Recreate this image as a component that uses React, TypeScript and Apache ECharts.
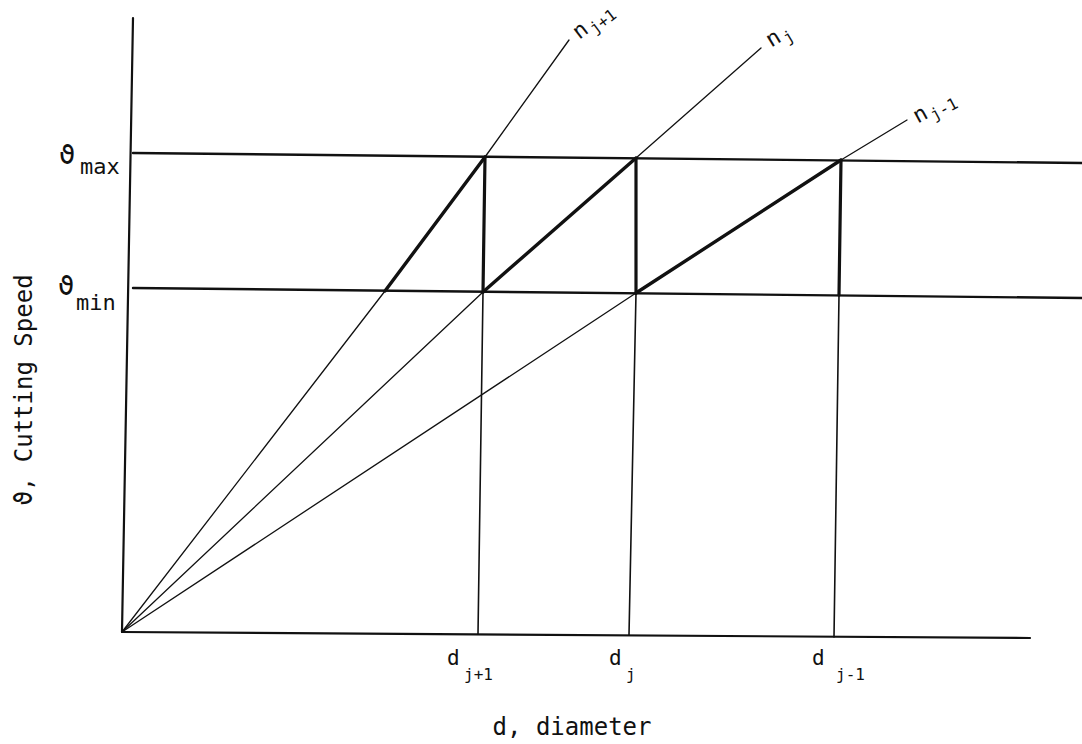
import React, { useEffect, useRef } from "react";
import * as echarts from "echarts";

// All coordinates are data units of a plain value grid (origin at the axes' corner).
const xAxisLine: number[][] = [[0, 0], [908, -6]];
const yAxisLine: number[][] = [[0, 0], [11, 614]];
const vMaxLine: number[][] = [[11, 479], [960, 469]];
const vMinLine: number[][] = [[11, 344], [960, 334]];

// rays n_{j+1}, n_j, n_{j-1}: origin -> crossing vmin -> crossing vmax -> end
const rayNjPlus1: number[][] = [[0, 0], [263, 341], [363, 475], [447, 592]];
const rayNj: number[][] = [[0, 0], [361, 340], [514, 474], [639, 584]];
const rayNjMinus1: number[][] = [[0, 0], [514, 339], [719, 472], [785, 512]];

// diameters d_{j+1}, d_j, d_{j-1}: x-axis -> vmin -> vmax
const diaJPlus1: number[][] = [[356, -2], [361, 340], [363, 475]];
const diaJ: number[][] = [[507, -3], [514, 339], [514, 474]];
const diaJMinus1: number[][] = [[712, -5], [717, 337], [719, 472]];

const xAxisTitle = "d, diameter";
const yAxisTitle = "ϑ, Cutting Speed";
const speedSymbol = "ϑ";
const speedSubs = ["max", "min"];
const diaSubs = ["j+1", "j", "j-1"];
const raySubs = ["j+1", "j", "j-1"];

const INK = "#111";
const MONO = "'DejaVu Sans Mono', monospace";

function seg(data: number[][], width: number, z = 2) {
  return {
    type: "line",
    data,
    symbol: "none",
    silent: true,
    clip: false,
    z,
    lineStyle: { color: INK, width, cap: "round", join: "round" },
  };
}

function txt(text: string, x: number, y: number, size: number, align = "left", extra: any = {}) {
  return {
    type: "text",
    x,
    y,
    silent: true,
    style: {
      text,
      fontFamily: MONO,
      fontSize: size,
      fill: INK,
      textAlign: align,
      textVerticalAlign: "middle",
      ...extra,
    },
  };
}

export default function App() {
  const ref = useRef<HTMLDivElement>(null);
  useEffect(() => {
    if (!ref.current) return;
    const chart = echarts.init(ref.current, null, { renderer: "svg" });
    const series: any[] = [
      seg(xAxisLine, 2.2),
      seg(yAxisLine, 2.2),
      seg(vMaxLine, 2.4),
      seg(vMinLine, 2.4),
      seg(rayNjPlus1, 1.3),
      seg(rayNj, 1.3),
      seg(rayNjMinus1, 1.3),
      seg(rayNjPlus1.slice(1, 3), 3.4, 3),
      seg(rayNj.slice(1, 3), 3.4, 3),
      seg(rayNjMinus1.slice(1, 3), 3.4, 3),
      seg(diaJPlus1.slice(0, 2), 1.6),
      seg(diaJ.slice(0, 2), 1.6),
      seg(diaJMinus1.slice(0, 2), 1.6),
      seg(diaJPlus1.slice(1, 3), 3.2, 3),
      seg(diaJ.slice(1, 3), 3.2, 3),
      seg(diaJMinus1.slice(1, 3), 3.2, 3),
    ];

    const rayGroup = (x: number, y: number, rot: number, sub: string) => ({
      type: "group",
      x,
      y,
      rotation: rot,
      children: [txt("n", 0, 0, 22, "center"), txt(sub, 9, 7, 16, "left")],
    });

    const graphic: any[] = [
      txt(xAxisTitle, 572, 727, 24, "center"),
      {
        type: "text",
        x: 24,
        y: 390,
        rotation: Math.PI / 2,
        silent: true,
        style: {
          text: yAxisTitle,
          fontFamily: MONO,
          fontSize: 24,
          fill: INK,
          textAlign: "center",
          textVerticalAlign: "middle",
        },
      },
      txt(speedSymbol, 67, 154, 27, "center"),
      txt(speedSubs[0], 80, 166, 22, "left"),
      txt(speedSymbol, 66, 285, 27, "center"),
      txt(speedSubs[1], 76, 302, 22, "left"),
      txt("d", 447, 658, 21, "left"),
      txt(diaSubs[0], 464, 674, 16, "left"),
      txt("d", 609, 658, 21, "left"),
      txt(diaSubs[1], 626, 674, 16, "left"),
      txt("d", 812, 658, 21, "left"),
      txt(diaSubs[2], 836, 674, 16, "left"),
      rayGroup(580, 30, 0.65, raySubs[0]),
      rayGroup(773, 38, 0.55, raySubs[1]),
      rayGroup(920, 114, 0.5, raySubs[2]),
    ];

    chart.setOption({
      animation: false,
      backgroundColor: "#fff",
      grid: { left: 122, right: 0, top: 0, bottom: 0, containLabel: false },
      xAxis: { type: "value", min: 0, max: 960, show: false },
      yAxis: { type: "value", min: -112, max: 632, show: false },
      series,
      graphic,
    });
    return () => chart.dispose();
  }, []);
  return (
    <div
      ref={ref}
      style={{ position: "fixed", left: 0, top: 0, width: 1082, height: 744, background: "#fff" }}
    />
  );
}
